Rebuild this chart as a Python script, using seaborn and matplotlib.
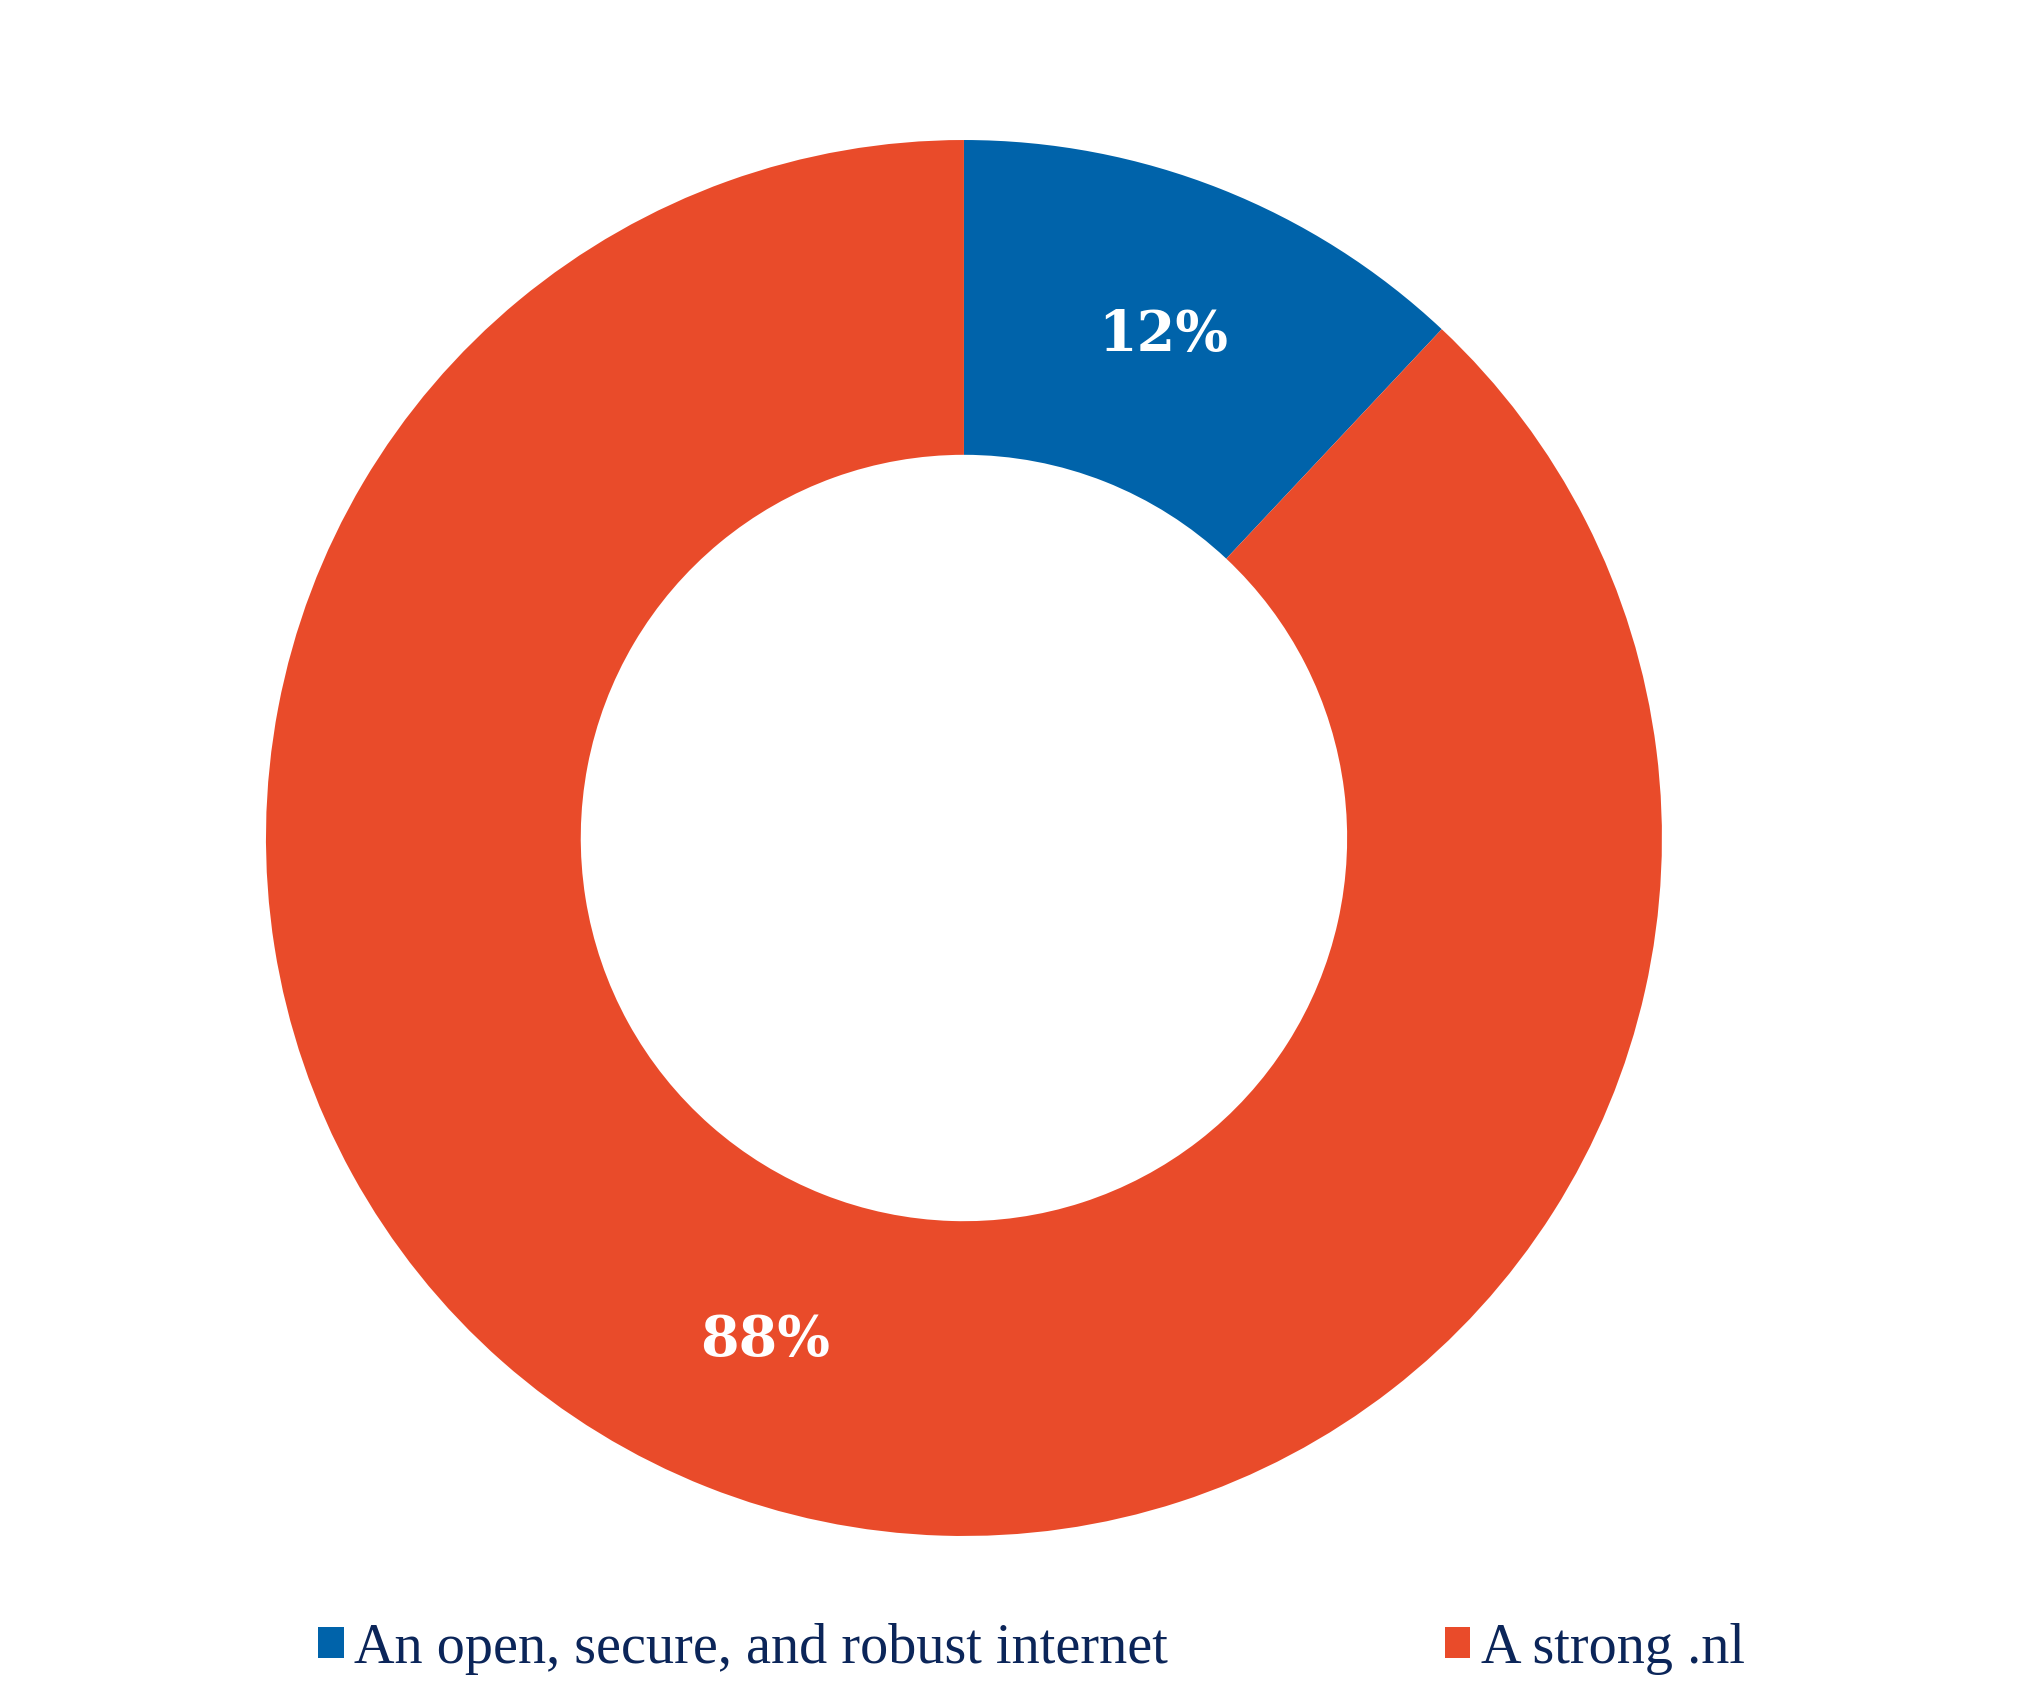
import matplotlib
matplotlib.use("Agg")
import matplotlib.pyplot as plt
import seaborn as sns
from matplotlib.patches import Patch

# data
categories = ["An open, secure, and robust internet", "A strong .nl"]
shares = [12, 88]
colors = ["#0063AA", "#E94B2A"]
text_color = "#0B2559"

sns.set_theme(style="white")
plt.rcParams['font.family'] = ['Liberation Serif', 'DejaVu Serif']

fig = plt.figure(figsize=(20.30, 16.89), dpi=100)
ax = fig.add_axes([0.131, 0.0906, 0.6877, 0.8265])

wedges, texts, autotexts = ax.pie(
    shares, colors=colors, startangle=90, counterclock=False,
    autopct='%1.0f%%', pctdistance=0.774, radius=1.0,
    wedgeprops=dict(width=0.451, linewidth=0),
)
for t in autotexts:
    t.set_color("white")
    t.set_fontsize(40)
    t.set_fontweight("heavy")
    t.set_family(["DejaVu Serif"])
ax.set_aspect("equal")
ax.set_xlim(-1, 1)
ax.set_ylim(-1, 1)
ax.axis("off")

handles = [Patch(facecolor=c, edgecolor="none") for c in colors]
leg = fig.legend(handles, categories, ncol=2, loc="center",
                 bbox_to_anchor=(0.508, 0.0238), frameon=False,
                 fontsize=40.5, handlelength=0.46, handleheight=0.46,
                 handletextpad=0.18, columnspacing=4.92, borderpad=0)
for t in leg.get_texts():
    t.set_color(text_color)

fig.savefig("out.png", dpi=100, facecolor="white")
